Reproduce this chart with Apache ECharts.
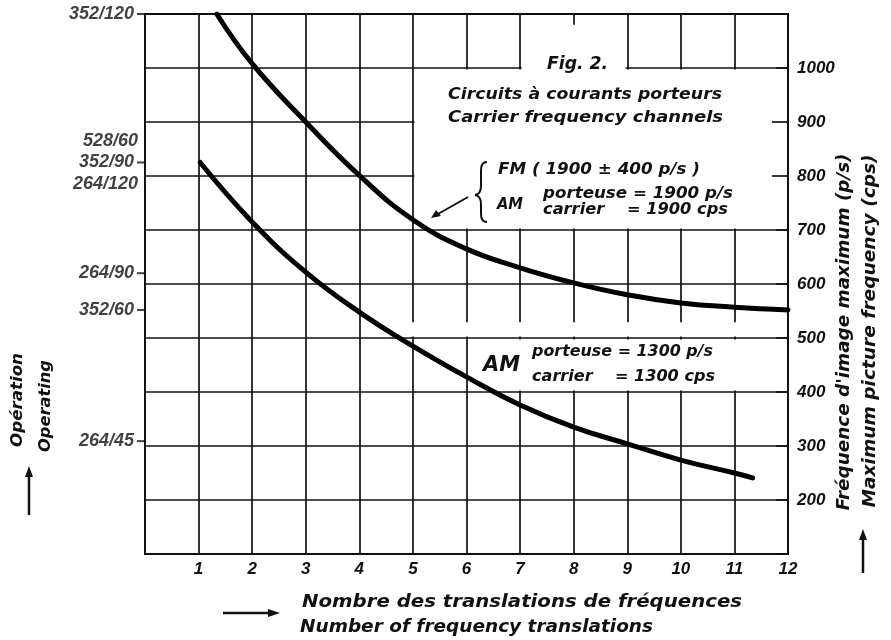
<!DOCTYPE html>
<html>
<head>
<meta charset="utf-8">
<script src="https://cdn.jsdelivr.net/npm/echarts@6/dist/echarts.min.js"></script>
<style>html,body{margin:0;padding:0;background:#fff}#c{width:891px;height:640px}</style>
</head>
<body>
<div id="c"></div>
<script>
// ---- data ----
const xTicks = [1, 2, 3, 4, 5, 6, 7, 8, 9, 10, 11, 12];
const rightTicks = [200, 300, 400, 500, 600, 700, 800, 900, 1000];
// upper curve: FM (1900 ± 400 p/s) / AM carrier 1900
const upperX = [1.34, 2, 3, 4, 5, 6, 7, 8, 9, 10, 11, 12];
const upperY = [1100, 1008, 900, 801, 719, 665, 630, 602, 580, 565, 557, 552];
// lower curve: AM carrier 1300
const lowerX = [1.03, 2, 3, 4, 5, 6, 7, 8, 9, 10, 11, 11.34];
const lowerY = [825, 715, 622, 548, 485, 428, 376, 335, 304, 274, 250, 241];
// left "operating" labels (lines/frames) and their position on the frequency scale
const opLabels = ['352/120', '528/60', '352/90', '264/120', '264/90', '352/60', '264/45'];
const opValues = [1100, 825, 825, 825, 620, 552, 309];

// ---- presentation ----
const INK = '#111';
const stacked = { '528/60': -21, '264/120': 22 };   // labels written above/below the shared tick
const openTicks = [900, 800];                         // right-axis ticks visible inside the caption panel

const chart = echarts.init(document.getElementById('c'), null, { renderer: 'canvas' });
const measureCtx = document.createElement('canvas').getContext('2d');

function txt(text, x, y, size, opts) {
  opts = opts || {};
  const font = 'italic bold ' + size + 'px "DejaVu Sans"';
  let sx = 1;
  if (opts.w) {
    measureCtx.font = font;
    const m = measureCtx.measureText(text).width;
    if (m > 0) sx = opts.w / m;
  }
  return {
    type: 'text', x: x, y: y, rotation: opts.rotation || 0, scaleX: sx, z: 50,
    style: {
      text: text, font: font, fill: INK,
      textAlign: opts.align || 'left', align: opts.align || 'left',
      textVerticalAlign: 'middle', verticalAlign: 'middle'
    }
  };
}
function line(pts, w) {
  return { type: 'polyline', z: 50, shape: { points: pts }, style: { stroke: INK, lineWidth: w || 2, fill: null } };
}
function head(pts) {
  return { type: 'polygon', z: 50, shape: { points: pts }, style: { fill: INK } };
}
function curve(x1, y1, cx, cy, x2, y2) {
  return { type: 'bezierCurve', z: 50, shape: { x1: x1, y1: y1, cpx1: cx, cpy1: cy, x2: x2, y2: y2 }, style: { stroke: INK, lineWidth: 2, fill: null } };
}

const labelFont = { color: INK, fontFamily: 'Liberation Sans', fontStyle: 'italic', fontWeight: 'bold', fontSize: 17 };

const option = {
  animation: false,
  backgroundColor: '#fff',
  grid: { left: 145, right: 103, top: 14, bottom: 86, show: true, borderColor: INK, borderWidth: 2, backgroundColor: 'transparent' },
  xAxis: {
    type: 'value', min: 0, max: 12, interval: 1,
    axisLine: { show: true, onZero: false, lineStyle: { color: INK, width: 2 } },
    axisTick: { show: false },
    axisLabel: Object.assign({ margin: 7, formatter: v => (xTicks.indexOf(v) >= 0 ? String(v) : '') }, labelFont),
    splitLine: { show: true, lineStyle: { color: INK, width: 1.7 } }
  },
  yAxis: {
    type: 'value', position: 'right', min: 100, max: 1100, interval: 100,
    axisLine: { show: true, onZero: false, lineStyle: { color: INK, width: 2 } },
    axisTick: { show: true, inside: true, length: 12, lineStyle: { color: INK, width: 1.7 } },
    axisLabel: Object.assign({ margin: 9, formatter: v => (rightTicks.indexOf(v) >= 0 ? String(v) : '') }, labelFont),
    splitLine: { show: true, lineStyle: { color: INK, width: 1.7 } }
  },
  series: [
    {
      // blank panels where the grid is interrupted for the captions
      type: 'line', data: [], z: 1, silent: true,
      markArea: {
        silent: true,
        itemStyle: { color: '#fff', opacity: 1, borderWidth: 0 },
        label: { show: false },
        data: [
          [{ coord: [5.03, 703] }, { coord: [11.97, 997] }],
          [{ coord: [7.03, 985] }, { coord: [8.97, 1097] }],
          [{ coord: [6.03, 403] }, { coord: [11.97, 497] }],
          [{ coord: [4.95, 503] }, { coord: [11.97, 529] }]
        ]
      },
      markLine: {
        silent: true, symbol: ['none', 'none'], label: { show: false },
        lineStyle: { color: INK, width: 1.7, type: 'solid' },
        data: [[{ coord: [8, 1100] }, { coord: [8, 1080] }]].concat(
          openTicks.map(v => [{ coord: [11.7, v] }, { coord: [12, v] }]))
      }
    },
    {
      name: 'FM/AM 1900', type: 'line', z: 3, smooth: 0.45, showSymbol: false, clip: true,
      lineStyle: { color: '#000', width: 5, cap: 'round' },
      data: upperX.map((x, i) => [x, upperY[i]])
    },
    {
      name: 'AM 1300', type: 'line', z: 3, smooth: 0.45, showSymbol: false, clip: true,
      lineStyle: { color: '#000', width: 5, cap: 'round' },
      data: lowerX.map((x, i) => [x, lowerY[i]])
    },
    {
      name: 'operating', type: 'scatter', z: 4, clip: false, silent: true,
      symbol: 'rect', symbolSize: [8, 2], symbolOffset: [-4, 0],
      itemStyle: { color: INK },
      data: opValues.map((v, i) => ({
        value: [0, v],
        symbolSize: stacked[opLabels[i]] !== undefined ? 0 : [8, 2],
        label: {
          show: true, position: 'left', distance: 3,
          offset: [0, stacked[opLabels[i]] || 0],
          formatter: opLabels[i],
          color: INK, fontFamily: 'Liberation Sans', fontStyle: 'italic', fontWeight: 'bold', fontSize: 18
        }
      }))
    }
  ],
  graphic: [
    // left axis title + arrow
    txt('Opération', 18, 400, 16, { rotation: Math.PI / 2, align: 'center', w: 94 }),
    txt('Operating', 46, 406, 16, { rotation: Math.PI / 2, align: 'center', w: 92 }),
    line([[29, 515], [29, 474]], 2.5), head([[25, 477], [29, 466], [33, 477]]),
    // right axis title + arrow
    txt("Fréquence d'image maximum (p/s)", 845, 332, 17, { rotation: Math.PI / 2, align: 'center', w: 357 }),
    txt('Maximum picture frequency (cps)', 871, 331, 17, { rotation: Math.PI / 2, align: 'center', w: 353 }),
    line([[863, 573], [863, 538]], 2.5), head([[859, 540], [863, 529], [867, 540]]),
    // x axis title + arrow
    txt('Nombre des translations de fréquences', 302, 602, 18, { w: 440 }),
    txt('Number of frequency translations', 300, 627, 18, { w: 353 }),
    line([[223, 613], [270, 613]], 2.5), head([[268, 609], [280, 613], [268, 617]]),
    // figure caption
    txt('Fig. 2.', 547, 64, 18, { w: 61 }),
    txt('Circuits à courants porteurs', 448, 95, 16, { w: 274 }),
    txt('Carrier frequency channels', 448, 118, 16, { w: 275 }),
    // FM / AM 1900 block: brace, texts, arrow
    curve(487, 162, 481, 162, 481, 170),
    line([[481, 170], [481, 186]], 2),
    curve(481, 186, 481, 194, 475, 195),
    curve(475, 195, 481, 196, 481, 204),
    line([[481, 204], [481, 214]], 2),
    curve(481, 214, 481, 222, 487, 222),
    txt('FM ( 1900 ± 400 p/s )', 498, 170, 16, { w: 202 }),
    txt('AM', 497, 205, 16, { w: 26 }),
    txt('porteuse = 1900 p/s', 543, 194, 15, { w: 190 }),
    txt('carrier    = 1900 cps', 543, 210, 15, { w: 185 }),
    line([[468, 197], [438, 214]], 2), head([[431, 218], [436, 210], [441, 216]]),
    // AM 1300 block
    txt('AM', 483, 366, 21, { w: 37 }),
    txt('porteuse = 1300 p/s', 532, 352, 16, { w: 181 }),
    txt('carrier    = 1300 cps', 532, 377, 16, { w: 183 })
  ]
};
chart.setOption(option);
</script>
</body>
</html>
